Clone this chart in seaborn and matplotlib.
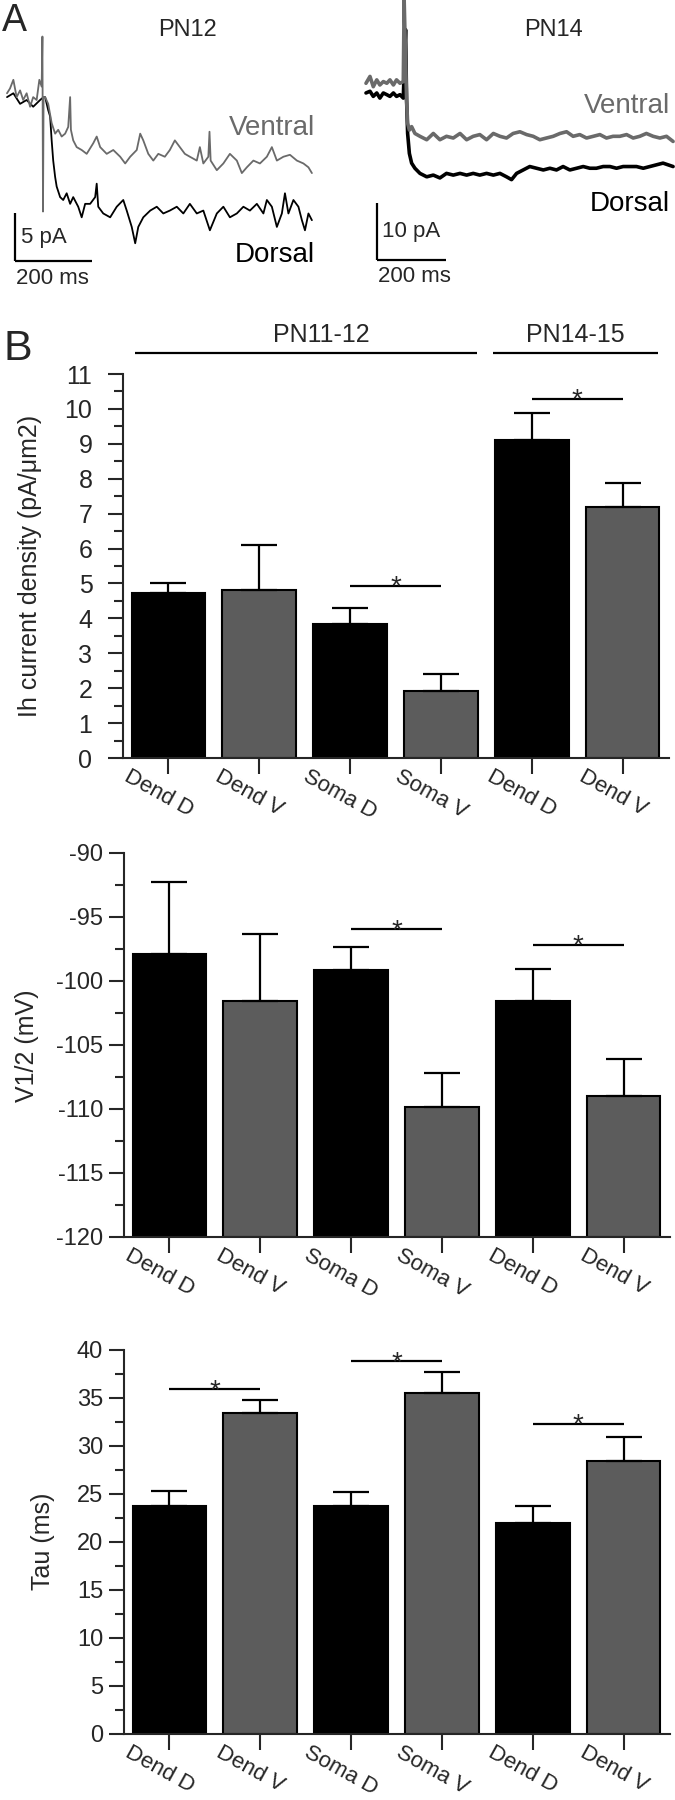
import numpy as np
import pandas as pd
import matplotlib
matplotlib.use("Agg")
import matplotlib.pyplot as plt
import matplotlib.transforms as mtransforms
from matplotlib.ticker import MultipleLocator
import seaborn as sns

# ------------------------------------------------------------------ data
# Panel A example traces (time in ms, current in pA)
pn12_t_ventral = [0, 7.8, 16.5, 25, 34, 42, 51, 60, 68, 77, 84, 90, 92, 93.5, 95, 99, 107, 116, 125, 133,
                  142, 151, 159, 164, 166, 172, 181, 194, 207, 224, 233, 242, 259, 276, 294, 307, 320, 337, 346, 354,
                  367, 380, 393, 410, 423, 436, 449, 462, 475, 493, 501, 510, 523, 526, 529, 545, 562, 579, 597, 610,
                  623, 640, 657, 675, 688, 701, 718, 735, 753, 770, 783, 792]
pn12_i_ventral = [0.5, 1.0, 1.9, 0.1, 0.8, -0.2, 0.5, -0.9, 0.1, -0.2, 1.9, 1.2, 6.4, -11.8, 0.1, 0.1, -0.6, -2.6, -3.7, -3.3,
                  -4.0, -3.7, -3.0, 0.1, -3.3, -4.4, -5.1, -5.4, -5.8, -4.7, -4.0, -5.1, -5.8, -5.4, -6.1, -6.8, -6.1, -5.4, -3.7, -4.4,
                  -5.8, -6.5, -5.8, -6.1, -5.4, -4.4, -5.1, -5.8, -6.1, -6.5, -5.1, -6.8, -6.1, -3.5, -6.5, -7.5, -6.8, -5.8, -6.5, -7.8,
                  -7.2, -6.5, -6.8, -6.1, -5.1, -6.5, -6.1, -5.9, -6.5, -6.8, -7.2, -7.8]
pn12_t_dorsal = [0, 16.5, 34, 51, 68, 86, 95, 99, 107, 112, 116, 120, 125, 129, 138, 146, 155, 164, 172, 185,
                 194, 203, 216, 229, 233, 237, 250, 268, 285, 302, 311, 324, 333, 341, 354, 372, 389, 406, 423, 441,
                 458, 475, 493, 510, 527, 545, 562, 579, 597, 614, 631, 649, 666, 675, 688, 701, 714, 722, 731, 744,
                 757, 766, 774, 783, 792]
pn12_i_dorsal = [0.1, 0.5, -0.6, -0.2, -0.9, -0.2, 0.1, 0.1, -1.25, -1.9, -4.4, -6.5, -8.2, -9.2, -10.3, -10.6, -9.9, -11.0, -10.3, -11.3,
                 -12.4, -11.0, -11.0, -10.3, -8.9, -11.3, -12.0, -12.4, -11.3, -10.6, -11.7, -13.4, -15.1, -13.4, -12.4, -11.7, -11.3, -12.0, -11.7, -11.3,
                 -12.0, -11.0, -12.0, -11.7, -13.75, -12.0, -11.3, -12.4, -12.0, -11.3, -11.7, -11.0, -12.0, -10.6, -11.3, -13.4, -12.0, -9.9, -12.0, -10.6,
                 -11.3, -12.7, -13.75, -12.0, -12.7]

pn14_t_ventral = [0, 11.5, 21, 31, 40, 50, 60, 69, 79, 88, 98, 107.5, 110, 117, 120, 125, 131.5, 141, 155.5, 175,
                  194, 213, 232, 251.5, 271, 290, 309, 328, 347.5, 367, 386, 405, 424, 443.5, 463, 482, 501, 520, 539.5, 559,
                  578, 597, 616, 635.5, 655, 674, 693, 712, 731.5, 751, 770, 789, 808, 827.5, 847, 866, 885]
pn14_i_ventral = [0.8, 2.0, 0.2, 1.4, 0.5, 1.1, 0.8, 1.4, 0.5, 1.4, 0.8, 1.1, 15.4, -2.1, -6.2, -7.4, -6.8, -8.0, -8.5, -9.1,
                  -8.0, -9.1, -8.5, -8.8, -8.0, -9.1, -8.5, -8.2, -9.1, -8.0, -8.5, -8.8, -8.0, -7.7, -8.2, -8.5, -9.1, -8.8, -8.5, -8.0,
                  -7.7, -8.5, -8.2, -8.8, -8.5, -8.2, -8.8, -8.5, -8.5, -8.2, -8.8, -8.5, -8.0, -8.5, -8.8, -8.5, -9.4]
pn14_t_dorsal = [0, 11.5, 21, 31, 40, 50, 60, 69, 79, 88, 98, 107.5, 114, 117, 120, 125, 131.5, 141, 155.5, 175,
                 194, 213, 232, 251.5, 271, 290, 309, 328, 347.5, 367, 386, 405, 419.5, 434, 453, 472, 491.5, 511, 530, 549,
                 568, 587.5, 607, 626, 645, 664, 683.5, 703, 722, 741, 760, 779.5, 799, 818, 837, 856, 885]
pn14_i_dorsal = [-0.9, -0.6, -1.5, -0.9, -1.8, -0.9, -1.2, -1.5, -0.9, -1.5, -1.2, -1.8, 10.2, -2.1, -8.0, -11.5, -13.2, -14.1, -15.0, -15.6,
                 -15.3, -15.8, -15.0, -15.3, -15.0, -15.3, -15.0, -15.3, -15.0, -15.3, -15.0, -15.6, -16.1, -15.0, -14.4, -13.8, -14.1, -14.4, -14.1, -14.4,
                 -13.8, -14.4, -14.1, -13.8, -14.1, -14.1, -13.8, -13.8, -14.1, -13.8, -13.8, -13.8, -14.1, -13.8, -13.5, -13.2, -13.8]

# Panel B bar data
tick_labels = ["Dend D", "Dend V", "Soma D", "Soma V", "Dend D", "Dend V"]
cond_ids = ["Dend D PN11-12", "Dend V PN11-12", "Soma D PN11-12", "Soma V PN11-12",
            "Dend D PN14-15", "Dend V PN14-15"]
side = ["D", "V", "D", "V", "D", "V"]

ih_mean = [4.72, 4.81, 3.84, 1.91, 9.11, 7.20]
ih_sem = [0.28, 1.29, 0.46, 0.49, 0.78, 0.68]
v12_mean = [-97.9, -101.6, -99.2, -109.9, -101.6, -109.0]
v12_sem = [5.6, 5.25, 1.8, 2.7, 2.54, 2.9]
tau_mean = [23.7, 33.4, 23.7, 35.5, 22.0, 28.4]
tau_sem = [1.65, 1.36, 1.47, 2.17, 1.78, 2.5]

ih_sig = [(2, 3, 4.93), (4, 5, 10.29)]
v12_sig = [(2, 3, -95.96), (4, 5, -97.2)]
tau_sig = [(0, 1, 35.9), (2, 3, 38.85), (4, 5, 32.3)]

age_groups = ["PN11-12", "PN14-15"]

# ------------------------------------------------------------------ style
sns.set_style("ticks")
plt.rcParams["font.family"] = ["Liberation Sans", "DejaVu Sans"]
plt.rcParams["axes.unicode_minus"] = False

BLACK = "#000000"
GRAY = "#5c5c5c"
TRACE_GRAY = "#6a6a6a"
palette = {"D": BLACK, "V": GRAY}

W, H = 675, 1800
fig = plt.figure(figsize=(W / 100, H / 100), dpi=100)


def fx(x):
    return x / W


def fy(y):
    return 1 - y / H


# ------------------------------------------------------------------ panel A
axL = fig.add_axes([0, fy(300), 340 / W, 300 / H])
axR = fig.add_axes([340 / W, fy(300), 335 / W, 300 / H])
for ax in (axL, axR):
    ax.axis("off")

sns.lineplot(x=pn12_t_dorsal, y=pn12_i_dorsal, ax=axL, color=BLACK, lw=1.3,
             sort=False, estimator=None)
sns.lineplot(x=pn12_t_ventral, y=pn12_i_ventral, ax=axL, color=TRACE_GRAY, lw=1.3,
             sort=False, estimator=None)
axL.set_xlim(-18.2, 865)
axL.set_ylim(-21.0, 10.2)

sns.lineplot(x=pn14_t_dorsal, y=pn14_i_dorsal, ax=axR, color=BLACK, lw=2.6,
             sort=False, estimator=None)
sns.lineplot(x=pn14_t_ventral, y=pn14_i_ventral, ax=axR, color=TRACE_GRAY, lw=2.6,
             sort=False, estimator=None)
axR.set_xlim(-74.9, 890.5)
axR.set_ylim(-37.2, 15.4)

# scale bars (200 ms; 5 pA and 10 pA)
for ax, x0, y0, pa in ((axL, 20.8, -16.9, 5), (axR, 31.7, -30.2, 10)):
    ax.plot([x0, x0 + 200], [y0, y0], color=BLACK, lw=1.6, solid_capstyle="butt")
    ax.plot([x0, x0], [y0, y0 + pa], color=BLACK, lw=1.6, solid_capstyle="butt")

fig.text(fx(14), fy(21), "A", fontsize=27, ha="center", va="center")
fig.text(fx(187), fy(30), "PN12", fontsize=17, ha="center", va="center")
fig.text(fx(554), fy(30), "PN14", fontsize=17, ha="center", va="center")
fig.text(fx(315), fy(128), "Ventral", fontsize=20, ha="right", va="center", color=TRACE_GRAY)
fig.text(fx(315), fy(255), "Dorsal", fontsize=20, ha="right", va="center", color=BLACK)
fig.text(fx(670), fy(106), "Ventral", fontsize=20, ha="right", va="center", color=TRACE_GRAY)
fig.text(fx(670), fy(204), "Dorsal", fontsize=20, ha="right", va="center", color=BLACK)
fig.text(fx(21), fy(238), "5 pA", fontsize=16, ha="left", va="center")
fig.text(fx(52), fy(278), "200 ms", fontsize=16, ha="center", va="center")
fig.text(fx(382), fy(232), "10 pA", fontsize=16, ha="left", va="center")
fig.text(fx(414), fy(276), "200 ms", fontsize=16, ha="center", va="center")

# ------------------------------------------------------------------ panel B


def bar_panel(ax, means, sems, sig, ylim, major, minor, ytick_size, ypad, base=None):
    means = np.asarray(means, dtype=float)
    df = pd.DataFrame({"cond": cond_ids, "side": side, "mean": means})
    kw = {}
    if base is not None:
        df["h"] = df["mean"] - base
        kw["bottom"] = base
    else:
        df["h"] = df["mean"]
    sns.barplot(data=df, x="cond", y="h", hue="side", palette=palette, dodge=False,
                order=cond_ids, hue_order=["D", "V"], width=0.81, edgecolor=BLACK,
                linewidth=1.5, errorbar=None, legend=False, ax=ax, **kw)
    x = np.arange(len(means))
    ax.errorbar(x, means, yerr=[np.zeros(len(means)), sems], fmt="none", ecolor=BLACK,
                elinewidth=1.6, capsize=13, capthick=1.6, zorder=3)
    for i, j, yv in sig:
        ax.plot([i, j], [yv, yv], color=BLACK, lw=1.6, clip_on=False, solid_capstyle="butt")
        ax.annotate("*", xy=((i + j) / 2, yv), xytext=(0, -6.3), textcoords="offset points",
                    ha="center", va="baseline", fontsize=20, annotation_clip=False)
    ax.set_ylim(*ylim)
    ax.set_xlim(-0.5, 5.51)
    ax.yaxis.set_major_locator(MultipleLocator(major))
    ax.yaxis.set_minor_locator(MultipleLocator(minor))
    sns.despine(ax=ax)
    for s in ("left", "bottom"):
        ax.spines[s].set_linewidth(1.5)
    ax.tick_params(axis="y", which="major", length=11, width=1.5, labelsize=ytick_size,
                   pad=ypad, direction="out")
    ax.tick_params(axis="y", which="minor", length=6.5, width=1.5, direction="out")
    ax.tick_params(axis="x", which="major", length=11.5, width=1.5, direction="out", pad=0)
    ax.set_xlabel("")
    ax.set_ylabel("")
    ax.set_xticks(x)
    ax.set_xticklabels(tick_labels, rotation=-29, ha="center", va="top", fontsize=16)
    offset = mtransforms.ScaledTranslation(-10 / 100, 8 / 100, fig.dpi_scale_trans)
    for lab in ax.get_xticklabels():
        lab.set_transform(lab.get_transform() + offset)


ax1 = fig.add_axes([fx(123), fy(758), 546 / W, 384 / H])
bar_panel(ax1, ih_mean, ih_sem, ih_sig, (0, 11), 1, 0.5, 18, 11)
ax2 = fig.add_axes([fx(124), fy(1236.7), 546 / W, 384 / H])
bar_panel(ax2, v12_mean, v12_sem, v12_sig, (-120, -90), 5, 2.5, 17, 4, base=-120)
ax3 = fig.add_axes([fx(124), fy(1734), 546 / W, 384 / H])
bar_panel(ax3, tau_mean, tau_sem, tau_sig, (0, 40), 5, 2.5, 17, 4)

# y labels
fig.text(fx(30), fy(566), "Ih current density (pA/\u03bcm2)", rotation=90, fontsize=18,
         ha="center", va="center")
fig.text(fx(27), fy(1046), "V1/2 (mV)", rotation=90, fontsize=18, ha="center", va="center")
fig.text(fx(43), fy(1541), "Tau (ms)", rotation=90, fontsize=18, ha="center", va="center")

# age group brackets above the first chart
for name, (x0, x1) in zip(age_groups, [(-0.37, 3.40), (3.57, 5.39)]):
    ax1.plot([x0, x1], [11.6, 11.6], color=BLACK, lw=1.6, clip_on=False, solid_capstyle="butt")
    ax1.text((x0 + x1) / 2 + (0.17 if name == "PN11-12" else 0), 12.12, name, fontsize=18,
             ha="center", va="center", clip_on=False)

fig.text(fx(18), fy(349), "B", fontsize=31, ha="center", va="center")

fig.savefig("out.png", dpi=100)
